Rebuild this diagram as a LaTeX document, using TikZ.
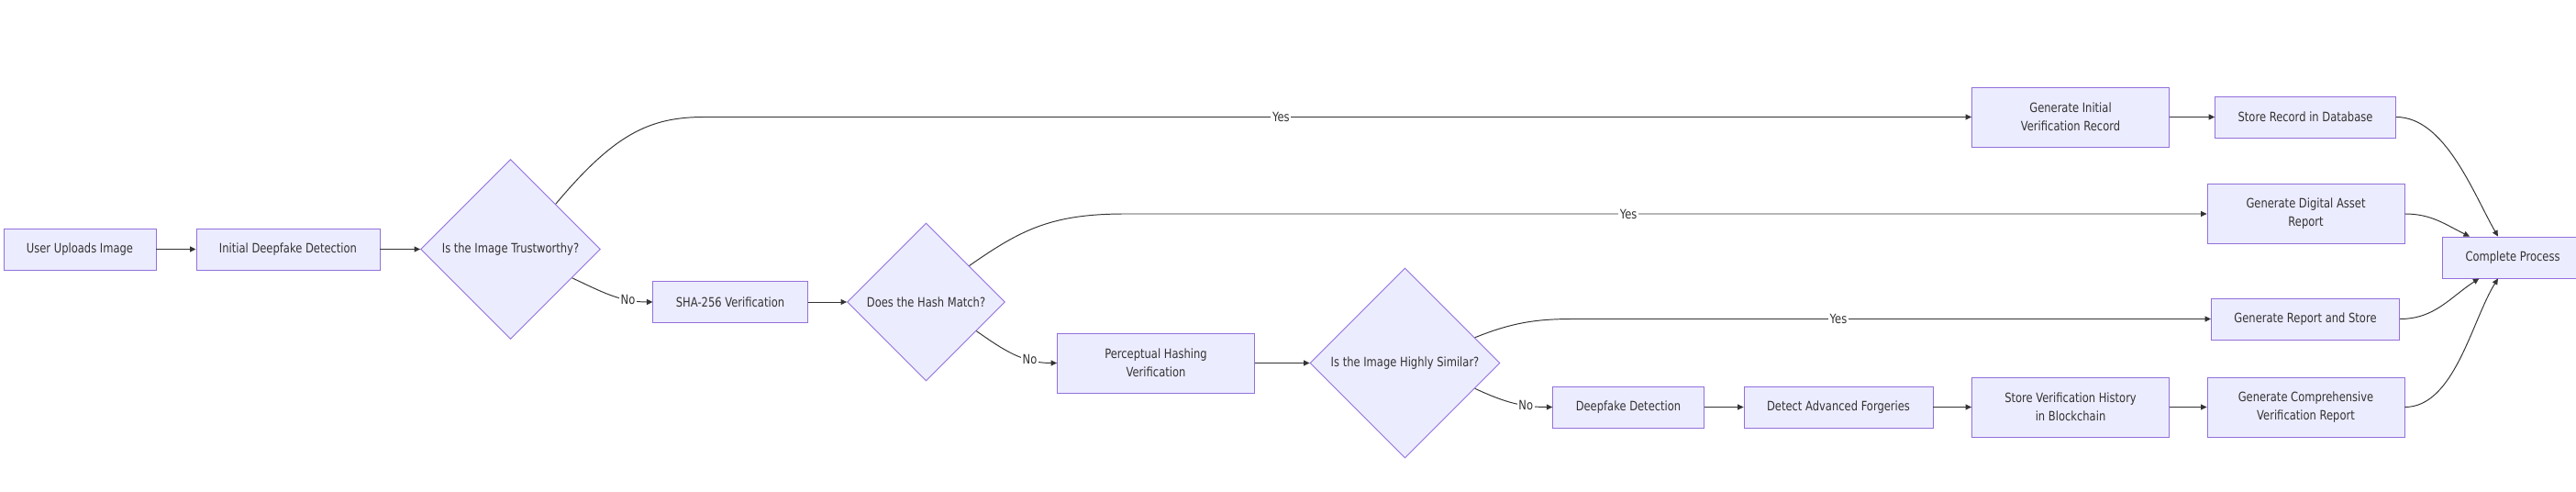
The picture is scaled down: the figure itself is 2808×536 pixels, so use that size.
\documentclass[tikz,border=0pt]{standalone}
\usepackage{fontspec}
\setmainfont{DejaVu Sans}[FakeStretch=0.82]
\usetikzlibrary{shapes.geometric,arrows.meta}
\definecolor{nodefill}{HTML}{ECECFF}
\definecolor{nodeline}{HTML}{9370DB}
\definecolor{inkgray}{HTML}{333333}

\begin{document}
\begin{tikzpicture}[x=0.02cm,y=0.02cm,
  every node/.style={font=\fontsize{8}{11.4}\selectfont, text=inkgray},
  box/.style={draw=nodeline, fill=nodefill, line width=0.5pt, minimum height=0.9cm, inner xsep=0.5cm, align=center},
  tallbox/.style={box, minimum height=1.3cm, minimum width=4.3cm, inner xsep=0pt},
  choice/.style={draw=nodeline, fill=nodefill, line width=0.5pt, diamond, aspect=1, inner sep=0pt, minimum width=#1, minimum height=#1},
  flow/.style={draw=inkgray, line width=0.55pt, -{Triangle[length=0.13cm,width=0.12cm]}},
  lbl/.style={fill=white, inner sep=1pt}]
\path[use as bounding box, fill=white] (0,0) rectangle (2808,-536);

\node[box] (upload) at (87,-271.5) {User Uploads Image};
\node[box] (initDetect) at (314,-271.5) {Initial Deepfake Detection};
\node[choice=3.92cm] (trusty) at (556.5,-271.5) {Is the Image Trustworthy?};
\node[box] (sha) at (796,-329) {SHA-256 Verification};
\node[choice=3.44cm] (hashOk) at (1009.5,-329) {Does the Hash Match?};
\node[tallbox] (percep) at (1260,-395.5) {Perceptual Hashing\\Verification};
\node[choice=4.14cm] (similar) at (1531.5,-395.5) {Is the Image Highly Similar?};
\node[box] (deepDetect) at (1775,-443.5) {Deepfake Detection};
\node[box] (forgery) at (2004,-443.5) {Detect Advanced Forgeries};
\node[tallbox] (chain) at (2257,-443.5) {Store Verification History\\in Blockchain};
\node[tallbox] (fullReport) at (2513.5,-443.5) {Generate Comprehensive\\Verification Report};
\node[tallbox] (initRecord) at (2257,-127.5) {Generate Initial\\Verification Record};
\node[box] (storeDb) at (2513,-127.5) {Store Record in Database};
\node[tallbox] (assetReport) at (2513.5,-233) {Generate Digital Asset\\Report};
\node[box] (reportStore) at (2513,-347.5) {Generate Report and Store};
\node[box] (done) at (2739,-280.5) {Complete Process};

\draw[flow] (upload) -- (initDetect);
\draw[flow] (initDetect) -- (trusty);
\draw[flow] (trusty.north east) .. controls +(50:100) and +(-60,0) .. (768,0 |- initRecord.west) -- node[lbl,pos=0.455] {Yes} (initRecord);
\draw[flow] (trusty.-25) to[out=-25,in=180] node[lbl,pos=0.72] {No} (sha.west);
\draw[flow] (sha) -- (hashOk);
\draw[flow] (hashOk.40) .. controls +(35:70) and +(-80,0) .. (1227,0 |- assetReport.west) -- node[lbl,pos=0.465] {Yes} (assetReport);
\draw[flow] (hashOk.-30) to[out=-35,in=180] node[lbl,pos=0.7] {No} (percep.west);
\draw[flow] (percep) -- (similar);
\draw[flow] (similar.20) .. controls +(22:45) and +(-40,0) .. (1716,0 |- reportStore.west) -- node[lbl,pos=0.415] {Yes} (reportStore);
\draw[flow] (similar.-20) to[out=-25,in=180] node[lbl,pos=0.68] {No} (deepDetect.west);
\draw[flow] (deepDetect) -- (forgery);
\draw[flow] (forgery) -- (chain);
\draw[flow] (chain) -- (fullReport);
\draw[flow] (initRecord) -- (storeDb);
\draw[flow] (storeDb.east) to[out=0,in=120,looseness=0.8] (done.125);
\draw[flow] (assetReport.east) to[out=0,in=154] (done.154);
\draw[flow] (reportStore.east) to[out=0,in=213] (done.212);
\draw[flow] (fullReport.east) to[out=0,in=238,looseness=0.8] (done.235);
\end{tikzpicture}
\end{document}
